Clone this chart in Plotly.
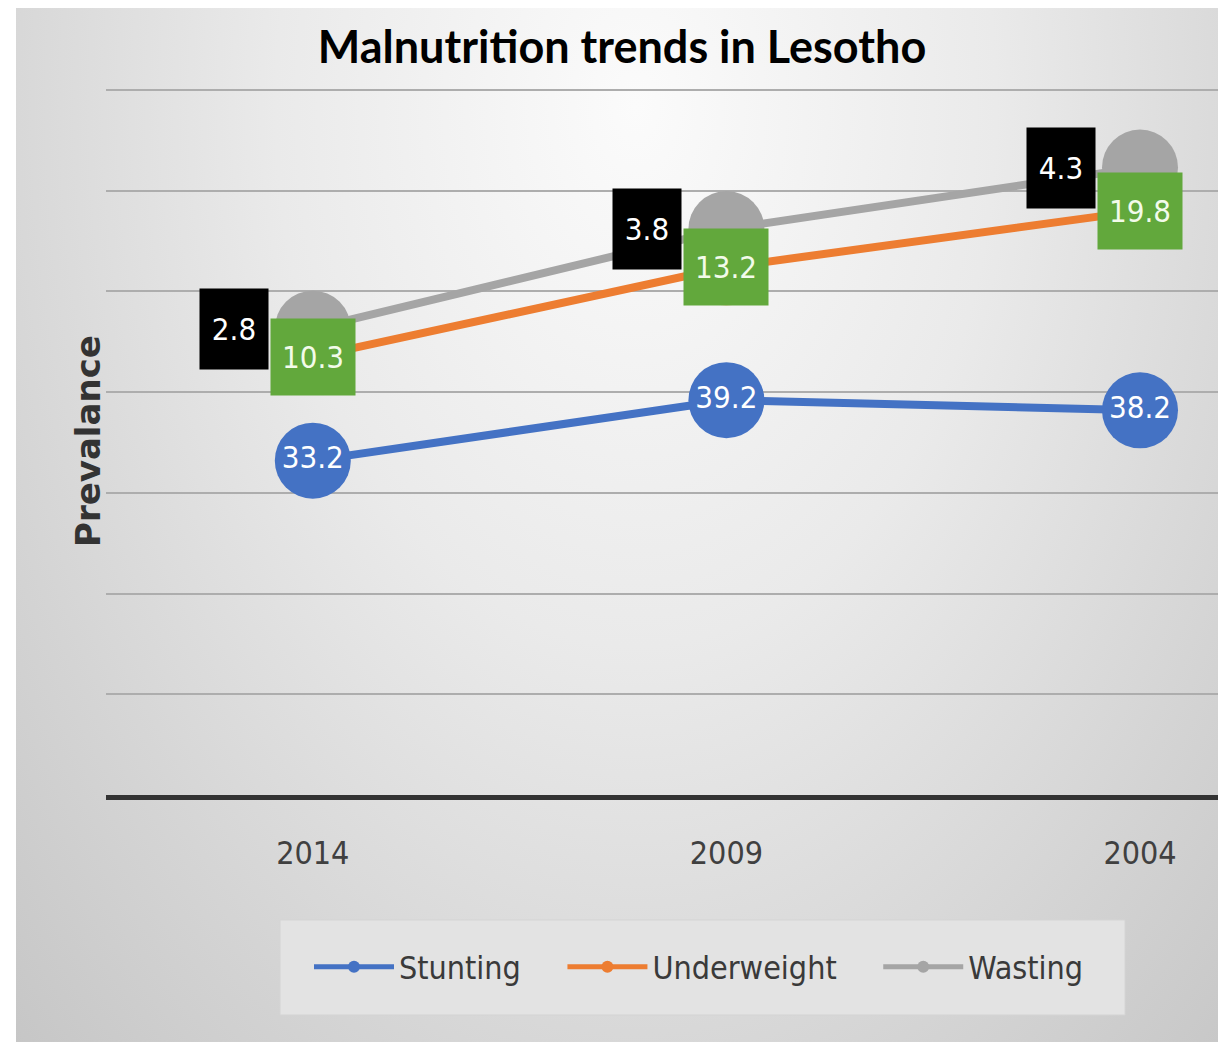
import base64
import numpy as np
import plotly.graph_objects as go

# ---- data ----
years = ["2014", "2009", "2004"]
stunting = [33.2, 39.2, 38.2]
underweight = [10.3, 13.2, 19.8]
wasting = [2.8, 3.8, 4.3]
series_names = ["Stunting", "Underweight", "Wasting"]
colors = ["#4472C4", "#ED7D31", "#A5A5A5"]
y_title = "Prevalance"
chart_title = "Malnutrition trends in Lesotho"

NARROW = "Liberation Sans Narrow, DejaVu Sans Condensed, Arial Narrow, sans-serif"

OFF = 8                      # page body margin
PW, PH = 1226, 1042          # page size
W, H = PW - OFF, PH - OFF    # figure size
L = 106 - OFF
B = PH - 795                 # x-axis line at page y 795
YMAX = 70.5
unit = (795 - 90) / 70.0
T = (795 - OFF) - YMAX * unit
pw, ph = W - L, H - T - B


def fx(px):   # page px -> paper x
    return (px - OFF - L) / pw


def fy(py):   # page px -> paper y
    return (H - B - (py - OFF)) / ph


fig = go.Figure()
for name, vals, col in zip(series_names, [stunting, underweight, wasting], colors):
    is_stunt = name == "Stunting"
    fig.add_trace(go.Scatter(
        x=years, y=vals, name=name + "\u00a0" * 4, stackgroup="one", fill="none",
        mode="lines+markers+text" if is_stunt else "lines+markers",
        line=dict(color=col, width=8),
        marker=dict(color=col, size=76, line=dict(width=0)),
        text=[f"{v:.1f}" for v in vals] if is_stunt else None,
        textposition="middle center",
        textfont=dict(family=NARROW, size=31, color="white"),
        hoverinfo="skip",
    ))

# label boxes for stacked series
cum_uw = np.array(stunting) + np.array(underweight)
cum_w = cum_uw + np.array(wasting)
for i, yr in enumerate(years):
    fig.add_annotation(x=i, y=cum_uw[i], text=f"{underweight[i]:.1f}", showarrow=False,
                       xref="x", yref="y",
                       bgcolor="#62A83C", width=82, height=74,
                       font=dict(family=NARROW, size=31, color="#F2FBEA"))
    fig.add_annotation(x=i, y=cum_w[i], text=f"{wasting[i]:.1f}", showarrow=False,
                       xref="x", yref="y",
                       bgcolor="#000000", width=66, height=78, xshift=-79,
                       font=dict(family=NARROW, size=31, color="white"))

# y-axis title
fig.add_annotation(text=f"<b>{y_title}</b>", textangle=-90, showarrow=False,
                   xref="paper", yref="paper", x=fx(88), y=fy(441),
                   xanchor="center", yanchor="middle",
                   font=dict(family="DejaVu Sans, sans-serif", size=34, color="#333333"))

# background gradient
svg = (
    '<svg xmlns="http://www.w3.org/2000/svg" width="1210" height="1036" viewBox="0 0 1210 1036" preserveAspectRatio="none">'
    '<defs><radialGradient id="g" gradientUnits="userSpaceOnUse" cx="620" cy="100" r="900" '
    'gradientTransform="translate(620,100) scale(1,1.5) translate(-620,-100)">'
    '<stop offset="0" stop-color="#fbfbfb"/><stop offset="0.4" stop-color="#eaeaea"/>'
    '<stop offset="0.75" stop-color="#d4d4d4"/><stop offset="1" stop-color="#c5c5c5"/>'
    '</radialGradient></defs><rect width="1210" height="1036" fill="url(#g)"/></svg>'
)
src = "data:image/svg+xml;base64," + base64.b64encode(svg.encode()).decode()
fig.add_layout_image(dict(
    source=src, xref="paper", yref="paper",
    x=fx(16), y=fy(6),
    sizex=1210 / pw, sizey=1036 / ph,
    sizing="stretch", layer="below", xanchor="left", yanchor="top",
))

# legend panel
fig.add_shape(type="rect", xref="paper", yref="paper", layer="below",
              x0=fx(280), x1=fx(1125), y0=fy(1015), y1=fy(920),
              fillcolor="#e3e3e3", line=dict(color="#d4d4d4", width=1))

fig.update_layout(
    width=W, height=H,
    margin=dict(l=L, r=0, t=T, b=B, autoexpand=False),
    paper_bgcolor="white", plot_bgcolor="rgba(0,0,0,0)",
    title=dict(text=f"<b>{chart_title}</b>", x=(622 - OFF) / W, xanchor="center",
               y=1 - (47 - OFF) / H, yanchor="middle", yref="container",
               font=dict(family="Lato, Open Sans, sans-serif", size=45, color="black")),
    showlegend=True,
    legend=dict(orientation="h", x=fx(717), xanchor="center",
                y=fy(967), yanchor="middle",
                bgcolor="rgba(0,0,0,0)", borderwidth=0,
                font=dict(family=NARROW, size=32, color="#3a3a3a"),
                itemsizing="constant", itemwidth=80),
    xaxis=dict(type="category", range=[-0.5, 2 + (PW - 1140) / 413.6], automargin=False,
               showline=True, linecolor="#333333", linewidth=5,
               showgrid=False, ticks="", ticklabelstandoff=26,
               tickfont=dict(family=NARROW, size=32, color="#404040")),
    yaxis=dict(range=[0, YMAX], dtick=10, showticklabels=False, zeroline=False, automargin=False,
               showgrid=True, gridcolor="#adadad", gridwidth=2, ticks=""),
)

fig.write_html("out.html")
